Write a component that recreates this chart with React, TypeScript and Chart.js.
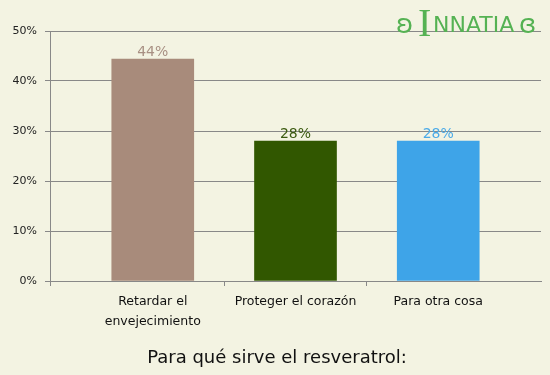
import { useEffect, useRef } from 'react';
import { Chart, registerables } from 'chart.js';
Chart.register(...registerables);

const categories: (string | string[])[] = [['Retardar el', 'envejecimiento'], 'Proteger el corazón', 'Para otra cosa'];
const values = [44.4, 28, 28];
const barColors = ['#A88B7B', '#315700', '#3EA4E8'];
const labelColors = ['#A89083', '#3B5A10', '#4AAAE8'];
const yMax = 50;
const yStep = 10;
const chartTitle = 'Para qué sirve el resveratrol:';
const logoText = 'INNATIA';

const BG = '#F3F3E2';
const GRID = '#888888';

const bgPlugin = {
  id: 'bg',
  beforeDraw(chart: any) {
    const { ctx, width, height } = chart;
    ctx.save();
    ctx.fillStyle = BG;
    ctx.fillRect(0, 0, width, height);
    ctx.restore();
  },
};

const valueLabels = {
  id: 'valueLabels',
  afterDatasetsDraw(chart: any) {
    const { ctx } = chart;
    const meta = chart.getDatasetMeta(0);
    ctx.save();
    ctx.font = '14px "DejaVu Sans"';
    ctx.textAlign = 'center';
    ctx.textBaseline = 'alphabetic';
    meta.data.forEach((bar: any, i: number) => {
      ctx.fillStyle = labelColors[i];
      ctx.fillText(Math.round(values[i]) + '%', bar.x, bar.y - 3);
    });
    ctx.restore();
  },
};

const logo = {
  id: 'logo',
  afterDraw(chart: any) {
    const { ctx, chartArea } = chart;
    ctx.save();
    ctx.fillStyle = '#55B253';
    ctx.textBaseline = 'alphabetic';
    ctx.textAlign = 'left';
    const right = chartArea.right;
    const base = chartArea.top + 1;
    ctx.font = '26px "DejaVu Sans"';
    ctx.fillText('ʚ', right - 145, base + 1);
    ctx.fillText('ɞ', right - 22, base + 1);
    ctx.font = '40px "Liberation Serif"';
    ctx.fillText(logoText[0], right - 123, base + 4);
    ctx.font = '22px "DejaVu Sans"';
    ctx.fillText(logoText.slice(1), right - 108, base);
    ctx.restore();
  },
};

export default function App() {
  const ref = useRef<HTMLCanvasElement>(null);
  useEffect(() => {
    if (!ref.current) return;
    Chart.defaults.font.family = '"DejaVu Sans"';
    const boundaries = categories.slice(1).map((_, i) => i + 0.5);
    const chart = new Chart(ref.current, {
      type: 'bar',
      data: {
        datasets: [
          {
            data: values.map((v, i) => ({ x: i, y: v })),
            backgroundColor: barColors,
            borderWidth: 0,
            barThickness: 82,
          },
        ],
      },
      plugins: [bgPlugin, valueLabels, logo],
      options: {
        animation: false,
        responsive: false,
        layout: { padding: { left: 13, right: 9, top: 31, bottom: 0 } },
        plugins: {
          legend: { display: false },
          tooltip: { enabled: false },
          title: {
            display: true,
            position: 'bottom',
            text: chartTitle,
            color: '#111',
            font: { size: 18, weight: 'normal' },
            padding: { top: 0, bottom: 6 },
          },
        },
        scales: {
          x: {
            type: 'linear',
            offset: false,
            min: -0.72,
            max: categories.length - 1 + 0.72,
            afterBuildTicks(scale: any) {
              const vals = [scale.min, ...categories.map((_, i) => i), ...boundaries].sort((a, b) => a - b);
              scale.ticks = vals.map((v) => ({ value: v }));
            },
            afterFit(scale: any) {
              scale.height = 66.4;
            },
            ticks: {
              autoSkip: false,
              maxRotation: 0,
              minRotation: 0,
              padding: 6,
              color: '#111',
              font: { size: 12.5, lineHeight: 1.6 },
              callback: (v: any) => (Number.isInteger(v) ? categories[v] : ''),
            },
            grid: {
              offset: false,
              drawOnChartArea: false,
              drawTicks: true,
              tickLength: 5,
              color: (c: any) => (c.tick && Number.isInteger(c.tick.value) ? 'rgba(0,0,0,0)' : GRID),
            },
            border: { display: true, color: GRID },
          },
          y: {
            min: 0,
            max: yMax,
            afterFit(scale: any) {
              scale.width = 37;
            },
            ticks: {
              stepSize: yStep,
              padding: 8,
              color: '#222',
              font: { size: 11 },
              callback: (v: any) => v + '%',
            },
            grid: { color: GRID, tickLength: 5, drawTicks: true },
            border: { display: true, color: GRID },
          },
        },
      },
    } as any);
    return () => chart.destroy();
  }, []);
  return (
    <div style={{ position: 'absolute', left: 0, top: 0, width: 550, height: 375, background: BG }}>
      <canvas ref={ref} width={550} height={375} style={{ display: 'block' }} />
    </div>
  );
}
